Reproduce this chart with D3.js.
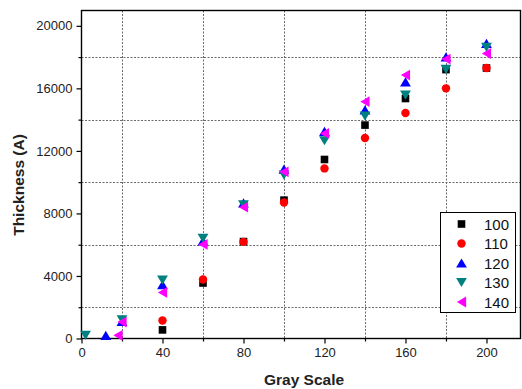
<!DOCTYPE html>
<html>
<head>
<meta charset="utf-8">
<script src="https://cdn.jsdelivr.net/npm/d3@7"></script>
<style>
  html, body { margin: 0; padding: 0; background: #fff; }
  svg { display: block; font-family: "Liberation Sans", Arial, sans-serif; }
</style>
</head>
<body>
<svg id="chart" width="522" height="389"></svg>
<script>
// Film thickness vs. gray scale, one series per setting
const seriesNames = ["100", "110", "120", "130", "140"];
const seriesColors = ["#000000", "#ff0000", "#0000ff", "#008080", "#ff00ff"];
const seriesShapes = ["square", "circle", "up", "down", "left"];

const gray100 = [40, 60, 80, 100, 120, 140, 160, 180, 200];
const thick100 = [550, 3550, 6200, 8850, 11450, 13650, 15350, 17200, 17300];

const gray110 = [40, 60, 80, 100, 120, 140, 160, 180, 200];
const thick110 = [1150, 3780, 6180, 8700, 10880, 12830, 14420, 16000, 17300];

const gray120 = [12, 20, 40, 60, 80, 100, 120, 140, 160, 180, 200];
const thick120 = [200, 1100, 3450, 6250, 8680, 10830, 13250, 14620, 16420, 18020, 18880];

const gray130 = [2, 20, 40, 60, 80, 100, 120, 140, 160, 180, 200];
const thick130 = [200, 1200, 3730, 6400, 8550, 10450, 12650, 14220, 15570, 17210, 18620];

const gray140 = [18, 20, 40, 60, 80, 100, 120, 140, 160, 180, 200];
const thick140 = [200, 1050, 2950, 6020, 8400, 10660, 13120, 15150, 16850, 17870, 18230];

const xMajorTicks = [0, 40, 80, 120, 160, 200];
const xMinorTicks = [20, 60, 100, 140, 180];
const yMajorTicks = [0, 4000, 8000, 12000, 16000, 20000];
const yMinorTicks = [2000, 6000, 10000, 14000, 18000];

const xTitle = "Gray Scale";
const yTitle = "Thickness (A)";

const allX = [gray100, gray110, gray120, gray130, gray140];
const allY = [thick100, thick110, thick120, thick130, thick140];

const svg = d3.select("#chart");
const plotL = 81.5, plotR = 520.5, plotT = 10.5, plotB = 338.5;

const x = d3.scaleLinear().domain([0, 216.8]).range([plotL, plotR]);
const y = d3.scaleLinear().domain([0, 20980]).range([plotB, plotT]);

// dotted grid at the minor tick positions
const grid = svg.append("g").attr("stroke", "#6a6a6a").attr("stroke-width", 1)
  .attr("stroke-dasharray", "2,1.5").attr("fill", "none");
grid.selectAll("line.v").data(xMinorTicks).join("line").attr("class", "v")
  .attr("x1", d => Math.round(x(d)) + 0.5).attr("x2", d => Math.round(x(d)) + 0.5)
  .attr("y1", plotT).attr("y2", plotB);
grid.selectAll("line.h").data(yMinorTicks).join("line").attr("class", "h")
  .attr("y1", d => Math.round(y(d)) + 0.5).attr("y2", d => Math.round(y(d)) + 0.5)
  .attr("x1", plotL).attr("x2", plotR);

// axes
svg.append("g").attr("transform", `translate(0,${plotB})`)
  .call(d3.axisBottom(x).tickValues(xMajorTicks).tickSize(5).tickPadding(4));
svg.append("g").attr("transform", `translate(0,${plotB})`)
  .call(d3.axisBottom(x).tickValues(xMinorTicks).tickSize(3).tickFormat(""));
svg.append("g").attr("transform", `translate(${plotL},0)`)
  .call(d3.axisLeft(y).tickValues(yMajorTicks).tickSize(5).tickPadding(4).tickFormat(d3.format("d")));
svg.append("g").attr("transform", `translate(${plotL},0)`)
  .call(d3.axisLeft(y).tickValues(yMinorTicks).tickSize(3).tickFormat(""));

svg.selectAll(".tick text").attr("font-size", 13).attr("fill", "#222")
  .attr("font-family", "'Liberation Sans', Arial, sans-serif");
svg.selectAll(".tick line").attr("stroke", "#000").attr("stroke-width", 1.2);
svg.selectAll(".domain").attr("stroke", "none");

// plot frame
svg.append("rect").attr("x", plotL).attr("y", plotT)
  .attr("width", plotR - plotL).attr("height", plotB - plotT)
  .attr("fill", "none").attr("stroke", "#000").attr("stroke-width", 1.4);

// marker shapes
function markerPath(shape) {
  switch (shape) {
    case "square": return "M-3.8,-3.8H3.8V3.8H-3.8Z";
    case "circle": return d3.symbol(d3.symbolCircle, 56)();
    case "up": return "M0,-4.6L5.4,4.6L-5.4,4.6Z";
    case "down": return "M0,4.6L5.4,-4.6L-5.4,-4.6Z";
    case "left": return "M-4.6,0L4.6,-5.4L4.6,5.4Z";
  }
}

const marks = svg.append("g");
seriesNames.forEach((name, i) => {
  const pts = allX[i].map((gx, j) => [gx, allY[i][j]]);
  marks.append("g").selectAll("path").data(pts).join("path")
    .attr("d", markerPath(seriesShapes[i]))
    .attr("transform", d => `translate(${x(d[0])},${y(d[1])})`)
    .attr("fill", seriesColors[i]);
});

// axis titles
svg.append("text").attr("x", 304).attr("y", 385)
  .attr("text-anchor", "middle").attr("font-size", 15.5).attr("font-weight", "bold")
  .attr("fill", "#222").text(xTitle);
svg.append("text").attr("transform", "translate(24,185) rotate(-90)")
  .attr("text-anchor", "middle").attr("font-size", 15.5).attr("font-weight", "bold")
  .attr("fill", "#222").text(yTitle);

// legend
const lg = svg.append("g");
lg.append("rect").attr("x", 440.5).attr("y", 212.5).attr("width", 75).attr("height", 100)
  .attr("fill", "#fff").attr("stroke", "#000").attr("stroke-width", 1);
seriesNames.forEach((name, i) => {
  const cy = 224 + i * 19.5;
  lg.append("path").attr("d", markerPath(seriesShapes[i]))
    .attr("transform", `translate(461.5,${cy})`).attr("fill", seriesColors[i]);
  lg.append("text").attr("x", 484).attr("y", cy + 5.5).attr("font-size", 15)
    .attr("fill", "#111").text(name);
});
</script>
</body>
</html>
